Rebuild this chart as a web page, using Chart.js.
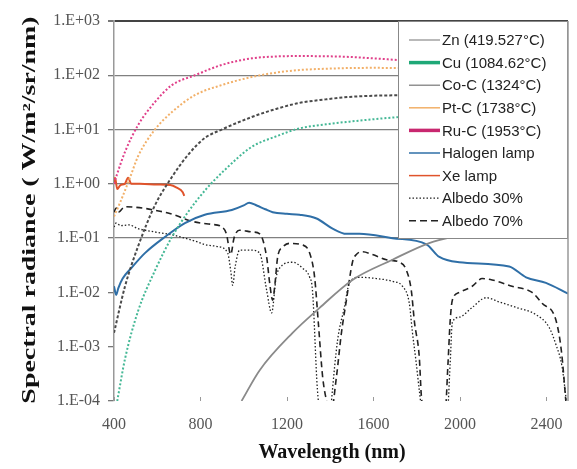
<!DOCTYPE html>
<html>
<head>
<meta charset="utf-8">
<script src="https://cdn.jsdelivr.net/npm/chart.js@4.4.0/dist/chart.umd.min.js"></script>
<style>
  html, body { margin: 0; padding: 0; background: #fff; }
  canvas { display: block; }
</style>
</head>
<body>
<canvas id="radiance-chart" width="577" height="469"></canvas>
<script>
// wavelength (nm) / radiance pairs
const znWl  = [990, 1074, 1226, 1351, 1503, 1688, 1858, 2043, 2200];
const znVal = [1e-4, 3.7e-4, 0.0018, 0.0052, 0.017, 0.04, 0.081, 0.125, 0.2];

const cuWl  = [415, 451, 511, 589, 668, 742, 820, 912, 1037, 1150, 1258, 1380, 1489, 1600, 1720, 1800];
const cuVal = [1e-4, 6e-4, 0.0045, 0.025, 0.105, 0.3, 0.75, 1.8, 4.8, 7.5, 10.5, 12.5, 14, 15.5, 17, 17.5];

const coWl  = [400, 451, 511, 589, 668, 742, 820, 898, 1037, 1150, 1258, 1380, 1489, 1600, 1720, 1800];
const coVal = [0.0018, 0.013, 0.07, 0.4, 1.34, 3.4, 7, 10, 17, 24, 31, 36, 40, 42, 43, 44];

const ptWl  = [400, 428, 474, 511, 589, 668, 774, 898, 1037, 1150, 1258, 1380, 1489, 1600, 1720, 1800];
const ptVal = [0.25, 0.45, 1.3, 3.2, 10, 21, 43, 66, 93, 112, 125, 132, 136, 137, 136, 134];

const ruWl  = [400, 414, 451, 511, 589, 668, 774, 898, 1037, 1150, 1258, 1380, 1489, 1600, 1720, 1800];
const ruVal = [1.0, 1.5, 3.9, 12, 32, 66, 100, 155, 205, 222, 226, 224, 218, 205, 190, 180];

const halWl  = [400, 410, 420, 440, 483, 543, 635, 728, 820, 945, 1000, 1025, 1060, 1100, 1134, 1200, 1258, 1337, 1411, 1475, 1535, 1688, 1845, 1905, 1997, 2228, 2306, 2398, 2500];
const halVal = [0.013, 0.009, 0.012, 0.018, 0.029, 0.053, 0.105, 0.19, 0.27, 0.33, 0.4, 0.45, 0.4, 0.34, 0.3, 0.28, 0.27, 0.23, 0.15, 0.12, 0.12, 0.1, 0.077, 0.045, 0.036, 0.03, 0.019, 0.015, 0.0095];

const xeWl  = [400, 405, 415, 430, 450, 465, 480, 520, 600, 660, 690, 718, 725];
const xeVal = [1.0, 1.3, 0.8, 0.95, 1.0, 1.3, 1.0, 1.0, 0.97, 0.95, 0.85, 0.7, 0.6];

const alb30Wl  = [400, 410, 430, 470, 511, 589, 668, 728, 788, 820, 880, 926, 940, 949, 960, 981, 1037, 1074, 1106, 1129, 1150, 1166, 1226, 1272, 1305, 1318, 1341, 1360, 1400, 1406, 1434, 1466, 1489, 1535, 1614, 1688, 1734, 1766, 1780, 1798, 1812, 1830, 1940, 1955, 1965, 1997, 2057, 2122, 2181, 2260, 2352, 2412, 2444, 2472, 2490, 2500];
const alb30Val = [0.16, 0.19, 0.17, 0.175, 0.15, 0.13, 0.115, 0.1, 0.085, 0.076, 0.07, 0.053, 0.025, 0.0135, 0.029, 0.06, 0.06, 0.053, 0.011, 0.0042, 0.019, 0.028, 0.036, 0.028, 0.019, 0.011, 1.6e-4, 5e-5, 5e-5, 1e-4, 0.0013, 0.0054, 0.015, 0.019, 0.018, 0.016, 0.013, 0.0063, 0.0019, 5e-4, 1.6e-4, 5e-5, 5e-5, 5e-4, 0.0028, 0.0035, 0.0053, 0.008, 0.0067, 0.0053, 0.0039, 0.0023, 0.0011, 4.4e-4, 1.2e-4, 5e-5];

const alb70Wl  = [400, 410, 420, 450, 500, 550, 600, 650, 700, 750, 800, 850, 900, 920, 940, 955, 980, 1040, 1074, 1106, 1120, 1134, 1145, 1157, 1180, 1212, 1272, 1305, 1328, 1345, 1365, 1383, 1400, 1429, 1452, 1475, 1503, 1521, 1549, 1595, 1660, 1720, 1752, 1775, 1790, 1812, 1822, 1840, 1930, 1945, 1955, 1965, 1997, 2057, 2103, 2149, 2241, 2334, 2380, 2444, 2470, 2490];
const alb70Val = [0.3, 0.36, 0.3, 0.38, 0.37, 0.35, 0.32, 0.29, 0.25, 0.21, 0.19, 0.18, 0.16, 0.12, 0.05, 0.1, 0.14, 0.13, 0.12, 0.045, 0.015, 0.0072, 0.015, 0.045, 0.068, 0.08, 0.075, 0.053, 0.019, 0.0028, 2.8e-4, 1e-4, 5e-5, 2.8e-4, 0.0018, 0.0072, 0.036, 0.05, 0.056, 0.05, 0.04, 0.036, 0.026, 0.011, 0.0028, 6.5e-4, 1.2e-4, 5e-5, 5e-5, 5e-4, 0.003, 0.0072, 0.01, 0.013, 0.018, 0.017, 0.013, 0.01, 0.0063, 0.0031, 8e-4, 1e-4];

const xTicks = [400, 800, 1200, 1600, 2000, 2400];
const yTicks = [1e-4, 1e-3, 1e-2, 1e-1, 1, 1e1, 1e2, 1e3];

const toPoints = (wl, val) => wl.map((w, i) => ({ x: w, y: val[i] }));

const fmtTick = (v) => {
    const e = Math.round(Math.log10(v));
    return '1.E' + (e < 0 ? '-' : '+') + String(Math.abs(e)).padStart(2, '0');
};

// legend box sitting in the top right corner of the plot
const boxLegend = {
    id: 'boxLegend',
    afterDatasetsDraw(chart) {
        const { ctx, chartArea, scales } = chart;
        const left = Math.round(scales.x.getPixelForValue(1715));
        const top = chartArea.top;
        const right = chartArea.right;
        const bottom = Math.round(scales.y.getPixelForValue(0.1));
        ctx.save();
        ctx.fillStyle = '#fff';
        ctx.fillRect(left, top, right - left, bottom - top);
        ctx.strokeStyle = '#888';
        ctx.lineWidth = 1;
        ctx.strokeRect(left + 0.5, top + 0.5, right - left - 1, bottom - top);
        ctx.font = '15px "Liberation Sans", Arial, sans-serif';
        ctx.textBaseline = 'middle';
        chart.data.datasets.forEach((ds, i) => {
            const y = top + 19 + i * 22.6;
            ctx.beginPath();
            ctx.strokeStyle = ds.legendColor || ds.borderColor;
            ctx.lineWidth = ds.legendWidth || 1.5;
            ctx.setLineDash(ds.legendDash || []);
            ctx.moveTo(left + 11, y);
            ctx.lineTo(left + 42, y);
            ctx.stroke();
            ctx.setLineDash([]);
            ctx.fillStyle = '#222';
            ctx.fillText(ds.label, left + 44, y + 1);
        });
        ctx.restore();
    },
    afterDraw(chart) {
        const { ctx, chartArea, scales } = chart;
        ctx.save();
        // right frame line
        ctx.strokeStyle = '#999';
        ctx.lineWidth = 1.5;
        ctx.beginPath();
        ctx.moveTo(chartArea.right, chartArea.top);
        ctx.lineTo(chartArea.right, chartArea.bottom);
        ctx.stroke();
        // short inner ticks on the wavelength axis
        ctx.lineWidth = 1;
        xTicks.forEach(v => {
            const px = Math.round(scales.x.getPixelForValue(v)) + 0.5;
            ctx.beginPath();
            ctx.moveTo(px, chartArea.bottom - 4);
            ctx.lineTo(px, chartArea.bottom);
            ctx.stroke();
        });
        // axis titles
        ctx.fillStyle = '#111';
        ctx.textAlign = 'center';
        ctx.textBaseline = 'middle';
        ctx.font = 'bold 20px "Liberation Serif", "Times New Roman", serif';
        ctx.fillText('Wavelength (nm)', 332, 453);
        ctx.translate(30, 210);
        ctx.rotate(-Math.PI / 2);
        ctx.scale(1.55, 1);
        ctx.font = 'bold 18px "Liberation Serif", "Times New Roman", serif';
        ctx.fillText('Spectral radiance ( W/m\u00b2/sr/nm)', 0, 0);
        ctx.restore();
    }
};

const planck = (label, wl, val, color, dash, legendColor, legendWidth) => ({
    label,
    data: toPoints(wl, val),
    borderColor: color,
    borderWidth: 2,
    borderDash: dash,
    legendColor,
    legendWidth
});

const datasets = [
    { label: 'Zn (419.527\u00b0C)', data: toPoints(znWl, znVal), borderColor: '#8a8a8a', borderWidth: 1.8, legendWidth: 1.2 },
    planck('Cu (1084.62\u00b0C)', cuWl, cuVal, '#45b896', [2, 2], '#1fa877', 3.5),
    planck('Co-C (1324\u00b0C)', coWl, coVal, '#4a4a4a', [3, 2], '#777', 1.2),
    planck('Pt-C (1738\u00b0C)', ptWl, ptVal, '#f2b069', [2, 2], '#f2b069', 1.5),
    planck('Ru-C (1953\u00b0C)', ruWl, ruVal, '#e0408a', [2, 2], '#c8276f', 3.5),
    { label: 'Halogen lamp', data: toPoints(halWl, halVal), borderColor: '#2f6fa7', borderWidth: 2, legendWidth: 1.5 },
    { label: 'Xe lamp', data: toPoints(xeWl, xeVal), borderColor: '#e0532b', borderWidth: 2, legendWidth: 1.5 },
    { label: 'Albedo 30%', data: toPoints(alb30Wl, alb30Val), borderColor: '#222', borderWidth: 1.3, borderDash: [1.5, 2], legendDash: [1.5, 2], legendWidth: 1.3 },
    { label: 'Albedo 70%', data: toPoints(alb70Wl, alb70Val), borderColor: '#222', borderWidth: 1.6, borderDash: [6, 4], legendDash: [7, 4], legendWidth: 1.6 }
];

new Chart(document.getElementById('radiance-chart'), {
    type: 'line',
    data: { datasets },
    options: {
        responsive: false,
        animation: false,
        devicePixelRatio: 1,
        layout: { padding: { top: 21, right: 9, left: 0, bottom: 0 } },
        elements: {
            point: { radius: 0 },
            line: { cubicInterpolationMode: 'monotone', fill: false }
        },
        plugins: {
            legend: { display: false },
            tooltip: { enabled: false }
        },
        scales: {
            x: {
                type: 'linear',
                min: 400,
                max: 2500,
                afterBuildTicks: s => { s.ticks = xTicks.map(v => ({ value: v })); },
                afterFit: s => { s.height = 68; },
                grid: { display: false, drawTicks: false },
                border: { display: false },
                ticks: {
                    padding: 14,
                    maxRotation: 0,
                    color: '#555',
                    font: { family: '"Liberation Serif", "Times New Roman", serif', size: 16 },
                    callback: v => String(v)
                }
            },
            y: {
                type: 'logarithmic',
                min: 1e-4,
                max: 1e3,
                afterBuildTicks: s => { s.ticks = yTicks.map(v => ({ value: v })); },
                afterFit: s => { s.width = 114; },
                grid: {
                    color: c => c.tick.value >= 1e3 ? '#444' : (c.tick.value >= 0.099 ? '#808080' : 'rgba(0,0,0,0)'),
                    lineWidth: c => c.tick.value >= 1e3 ? 2 : 1.3,
                    tickColor: '#777',
                    tickLength: 6
                },
                border: { color: '#999', width: 1.5 },
                ticks: {
                    padding: 8,
                    color: '#555',
                    font: { family: '"Liberation Serif", "Times New Roman", serif', size: 16 },
                    callback: v => fmtTick(v)
                }
            }
        }
    },
    plugins: [boxLegend]
});
</script>
</body>
</html>
